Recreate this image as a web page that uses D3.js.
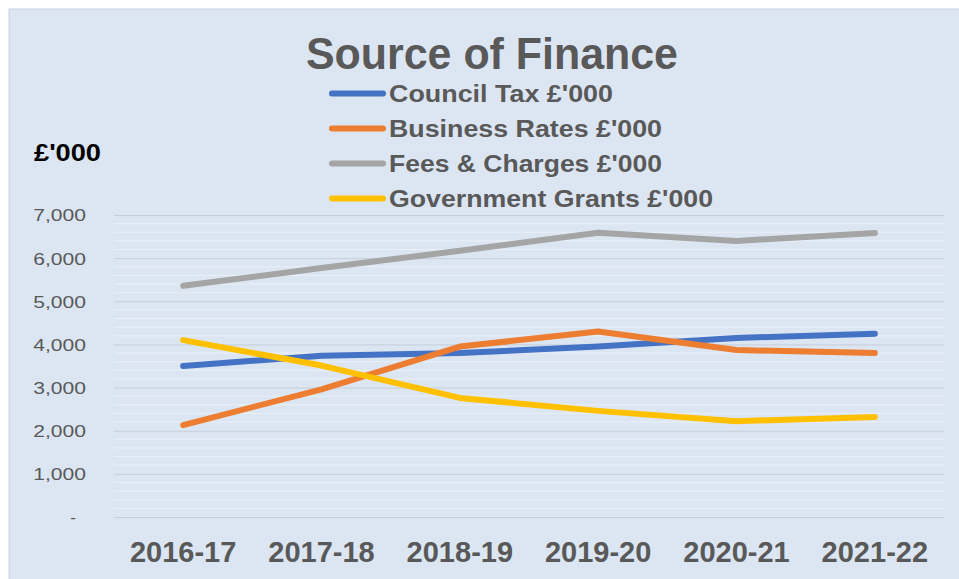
<!DOCTYPE html>
<html>
<head>
<meta charset="utf-8">
<script src="https://cdn.jsdelivr.net/npm/d3@7"></script>
<style>
  html, body { margin: 0; padding: 0; background: #ffffff; }
  svg { display: block; font-family: "Liberation Sans", Arial, sans-serif; }
</style>
</head>
<body>
<svg id="chart" width="959" height="579"></svg>
<script>
// ---- data ----
const categories = ["2016-17", "2017-18", "2018-19", "2019-20", "2020-21", "2021-22"];
const councilTax    = [3500, 3740, 3800, 3950, 4150, 4250];
const businessRates = [2130, 2960, 3950, 4300, 3870, 3800];
const feesCharges   = [5360, 5770, 6170, 6590, 6400, 6580];
const govGrants     = [4100, 3510, 2760, 2460, 2220, 2320];
const seriesNames = ["Council Tax £'000", "Business Rates £'000", "Fees & Charges £'000", "Government Grants £'000"];
const yTicks = [0, 1000, 2000, 3000, 4000, 5000, 6000, 7000];
const title = "Source of Finance";
const yAxisTitle = "£'000";

const seriesValues = [councilTax, businessRates, feesCharges, govGrants];
const colors = ["#4472c4", "#ed7d31", "#a5a5a5", "#ffc000"];

// ---- layout ----
const svg = d3.select("#chart");
const plot = { left: 114, right: 944, top: 215, bottom: 517 };
const textGray = "#595959";

svg.append("rect").attr("x", 9).attr("y", 9).attr("width", 960).attr("height", 580)
  .attr("fill", "#dce6f2").attr("stroke", "#c8d2dd").attr("stroke-width", 1);

const x = d3.scaleBand().domain(categories).range([plot.left, plot.right]).padding(0);
const y = d3.scaleLinear().domain([0, 7000]).range([plot.bottom, plot.top]);
const cx = c => x(c) + x.bandwidth() / 2;

// minor gridlines
const minor = d3.range(0, 7001, 200).filter(v => v % 1000 !== 0);
svg.append("g").selectAll("line").data(minor).join("line")
  .attr("x1", plot.left).attr("x2", plot.right)
  .attr("y1", d => y(d)).attr("y2", d => y(d))
  .attr("stroke", "#eaf0f7").attr("stroke-width", 1);

// y axis with major gridlines
const yAxis = d3.axisLeft(y).tickValues(yTicks)
  .tickSize(-(plot.right - plot.left))
  .tickFormat(d => d === 0 ? "-" : d3.format(",")(d));
const gy = svg.append("g").attr("transform", `translate(${plot.left},0)`).call(yAxis);
gy.select(".domain").remove();
gy.selectAll(".tick line").attr("stroke", "#c5ced9").attr("stroke-width", 1);
gy.selectAll(".tick text")
  .attr("x", -28).attr("dy", "0.35em")
  .attr("fill", textGray).attr("font-size", 17)
  .attr("text-anchor", "end")
  .each(function(d) {
    if (d === 0) { d3.select(this).attr("x", -38); return; }
    const w = this.getComputedTextLength();
    d3.select(this).attr("textLength", w * 1.24).attr("lengthAdjust", "spacingAndGlyphs");
  });

// x axis
const xAxis = d3.axisBottom(x).tickSize(0).tickPadding(0);
const gx = svg.append("g").attr("transform", `translate(0,${plot.bottom})`).call(xAxis);
gx.select(".domain").remove();
gx.selectAll(".tick text")
  .attr("y", 45).attr("dy", 0)
  .attr("fill", textGray).attr("font-size", 29).attr("font-weight", "bold");

// lines
const line = d3.line().x((d, i) => cx(categories[i])).y(d => y(d));
svg.append("g").selectAll("path").data(seriesValues).join("path")
  .attr("d", d => line(d))
  .attr("fill", "none")
  .attr("stroke", (d, i) => colors[i])
  .attr("stroke-width", 6)
  .attr("stroke-linecap", "round")
  .attr("stroke-linejoin", "round");

// title
function fitText(sel, w) {
  sel.attr("textLength", w).attr("lengthAdjust", "spacingAndGlyphs");
}
svg.append("text").attr("x", 306).attr("y", 69)
  .attr("font-size", 45).attr("font-weight", "bold").attr("fill", textGray)
  .text(title).call(fitText, 372);

// y axis title
svg.append("text").attr("x", 34).attr("y", 161)
  .attr("font-size", 24).attr("font-weight", "bold").attr("fill", "#000")
  .text(yAxisTitle).call(fitText, 67);

// legend
const legendWidths = [224, 273, 273, 324];
const legendY = d3.scalePoint().domain(seriesNames).range([93.5, 198.5]);
const lg = svg.append("g").selectAll("g").data(seriesNames).join("g")
  .attr("transform", d => `translate(0,${legendY(d)})`);
lg.append("line").attr("x1", 332).attr("x2", 383).attr("y1", 0).attr("y2", 0)
  .attr("stroke", (d, i) => colors[i]).attr("stroke-width", 6).attr("stroke-linecap", "round");
lg.append("text").attr("x", 389).attr("y", 8.5)
  .attr("font-size", 23).attr("font-weight", "bold").attr("fill", textGray)
  .text(d => d)
  .each(function(d, i) { d3.select(this).call(fitText, legendWidths[i]); });
</script>
</body>
</html>
